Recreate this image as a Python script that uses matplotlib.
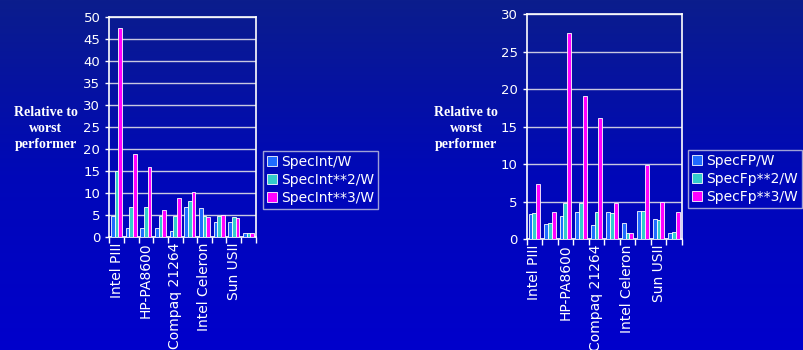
import numpy as np
import matplotlib.pyplot as plt
from matplotlib.colors import LinearSegmentedColormap

# Power efficiency of processors, relative to the worst performer
cpus = ["Intel PIII", "", "HP-PA8600", "", "Compaq 21264", "",
        "Intel Celeron", "", "Sun USII", ""]

int_w = [4.8, 2.0, 2.0, 2.0, 1.5, 6.9, 6.7, 3.5, 3.5, 0.9]
int_w2 = [15.1, 6.9, 6.9, 4.8, 4.8, 8.2, 4.8, 4.8, 4.7, 0.9]
int_w3 = [47.4, 19.0, 16.0, 6.2, 9.0, 10.2, 4.5, 5.0, 4.3, 0.9]

fp_w = [3.3, 2.0, 3.1, 3.6, 1.9, 3.6, 2.1, 3.7, 2.7, 0.8]
fp_w2 = [3.5, 2.1, 4.8, 4.8, 3.6, 3.5, 0.8, 3.8, 2.5, 0.9]
fp_w3 = [7.4, 3.6, 27.5, 19.1, 16.1, 4.8, 0.8, 9.9, 5.0, 3.6]

colors = ["#1f6bff", "#33cccc", "#ff00ff"]

fig = plt.figure(figsize=(8.04, 3.5), dpi=100)

# slide-style blue gradient behind everything
bg = fig.add_axes([0, 0, 1, 1], zorder=-10)
grad = LinearSegmentedColormap.from_list("slide", ["#0b1d8c", "#0008b8", "#0000cc"])
bg.imshow(np.linspace(0, 1, 256).reshape(-1, 1), aspect="auto", cmap=grad,
          extent=[0, 1, 0, 1])
bg.axis("off")


def bar_panel(rect, series, names, ymax, legend_pos, label_x):
    ax = fig.add_axes(rect)
    ax.set_facecolor("none")
    x = np.arange(len(cpus))
    w = 0.25
    for i, (vals, name) in enumerate(zip(series, names)):
        ax.bar(x + (i - 1) * w, vals, width=w, color=colors[i],
               edgecolor="white", linewidth=0.6, label=name, zorder=3)
    ax.set_xlim(-0.5, len(cpus) - 0.5)
    ax.set_ylim(0, ymax)
    ax.set_yticks(np.arange(0, ymax + 1, 5))
    ax.yaxis.grid(True, color="#c8c8e0", linewidth=1.0, zorder=1)
    for s in ax.spines.values():
        s.set_color("white")
        s.set_linewidth(1.2)
    ax.tick_params(axis="y", colors="white", labelsize=9.5, length=3, width=1)
    # ticks at group boundaries, labels under every other group
    ax.set_xticks(np.arange(-0.5, len(cpus)), minor=False)
    ax.set_xticklabels([])
    ax.tick_params(axis="x", which="major", colors="white", length=4, width=1)
    ax.set_xticks(x, minor=True)
    ax.set_xticklabels(cpus, minor=True, rotation=90, color="white", fontsize=10)
    ax.tick_params(axis="x", which="minor", length=0, pad=4)
    fig.text(label_x, 0.632, "Relative to\nworst\nperformer",
             ha="center", va="center", color="white", fontsize=10,
             family="Liberation Serif", fontweight="bold", linespacing=1.3)
    leg = ax.legend(loc="center left", bbox_to_anchor=legend_pos, frameon=True,
                    fontsize=10, handlelength=0.7, handleheight=0.7,
                    handletextpad=0.3, borderpad=0.3, labelspacing=0.3,
                    fancybox=False, borderaxespad=0)
    leg.get_frame().set_facecolor("none")
    leg.get_frame().set_edgecolor("#c8c8e0")
    for t in leg.get_texts():
        t.set_color("white")
    return ax


bar_panel([0.136, 0.322, 0.182, 0.63], [int_w, int_w2, int_w3],
          ["SpecInt/W", "SpecInt**2/W", "SpecInt**3/W"], 50, (1.05, 0.26), 0.057)
bar_panel([0.655, 0.317, 0.193, 0.643], [fp_w, fp_w2, fp_w3],
          ["SpecFP/W", "SpecFp**2/W", "SpecFp**3/W"], 30, (1.04, 0.267), 0.58)

fig.savefig("out.png", dpi=100)
